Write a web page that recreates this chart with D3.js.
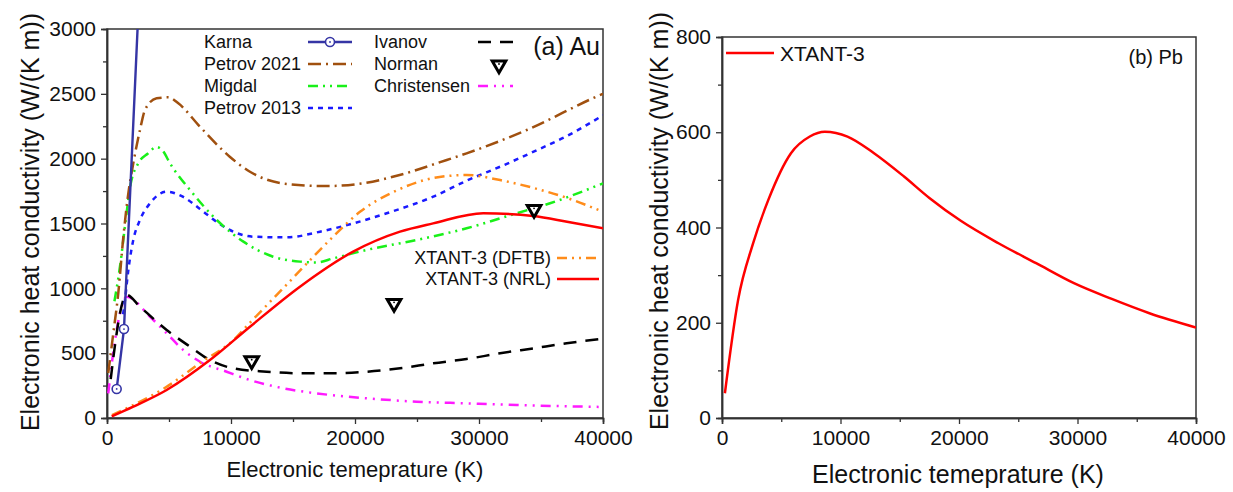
<!DOCTYPE html>
<html>
<head>
<meta charset="utf-8">
<script src="https://cdn.jsdelivr.net/npm/d3@7/dist/d3.min.js"></script>
<style>
  body { margin: 0; background: #fff; }
  svg text { font-family: "Liberation Sans", Arial, sans-serif; fill: #111; }
</style>
</head>
<body>
<svg id="chart"></svg>
<script>
const W = 1233;
const H = 492;

// ---- data: (a) Au, [temperature K, conductivity W/(K m)] ----
const karna = [[780, 224], [1370, 686], [2700, 3500]];
const petrov2021 = [[100, 347], [510, 655], [910, 963], [1320, 1398], [1720, 1733], [2120, 1964],
  [2660, 2221], [3060, 2375], [4000, 2466], [4950, 2473], [5750, 2427], [7500, 2246],
  [9900, 2015], [11530, 1899], [14500, 1805], [17700, 1789], [20650, 1810], [23600, 1874],
  [27400, 1990], [29000, 2041], [33850, 2221], [39350, 2473], [40000, 2500]];
const migdal = [[600, 900], [1050, 1170], [1450, 1480], [1900, 1800], [2500, 1960], [3300, 2040],
  [4000, 2090], [4500, 2060], [5080, 1964], [6700, 1758], [8850, 1527], [11000, 1360],
  [13400, 1244], [15560, 1206], [16900, 1200], [18250, 1231], [20940, 1296], [24970, 1373],
  [29000, 1463], [33040, 1579], [35730, 1656], [40000, 1810]];
const petrov2013 = [[1300, 800], [1450, 910], [1720, 1141], [2120, 1373], [2660, 1527], [3470, 1656],
  [4810, 1745], [6150, 1705], [7500, 1612], [8600, 1530], [9650, 1463], [11800, 1398], [14500, 1393],
  [17180, 1437], [19860, 1501], [22560, 1579], [26310, 1707], [29000, 1830], [32000, 1950],
  [35000, 2080], [37000, 2170], [40000, 2335]];
const ivanov = [[300, 300], [700, 600], [1050, 810], [1580, 949], [2660, 858], [4810, 679],
  [6700, 550], [8300, 447], [10190, 383], [12880, 357], [15560, 345], [18250, 345],
  [20940, 357], [23630, 383], [26310, 422], [29000, 455], [31700, 499], [34380, 537],
  [37070, 576], [40000, 612]];
const norman = [[11670, 442], [23150, 884], [34440, 1609]];
const christensen = [[100, 190], [650, 602], [1050, 807], [1580, 936], [3470, 781], [4810, 653],
  [6150, 524], [7500, 434], [9650, 357], [11530, 293], [14220, 229], [16910, 190],
  [20940, 152], [24970, 126], [29000, 113], [33040, 100], [40000, 85]];
const xtantDFTB = [[400, 23], [2120, 100], [4800, 240], [7500, 424], [10200, 601], [11500, 732],
  [14200, 1000], [15500, 1130], [16800, 1260], [18250, 1400], [20400, 1590], [23100, 1743],
  [26300, 1850], [29000, 1874], [31700, 1835], [34400, 1774], [37100, 1697], [40000, 1590]];
const xtantNRL = [[380, 12], [2120, 87], [4810, 216], [8300, 447], [11530, 704], [15560, 1013],
  [19850, 1283], [23630, 1437], [26300, 1501], [30340, 1579], [34370, 1558], [37100, 1514],
  [40000, 1463]];

// ---- data: (b) Pb ----
const pbXtant = [[245, 52], [1360, 248], [2630, 367], [3910, 458], [5820, 556], [7410, 591],
  [8680, 601], [10590, 591], [12830, 556], [15360, 507], [17500, 462], [20150, 414],
  [23330, 367], [26510, 325], [29700, 283], [32890, 250], [36070, 220], [40000, 190]];

const xTicks = [0, 10000, 20000, 30000, 40000];
const auYTicks = [0, 500, 1000, 1500, 2000, 2500, 3000];
const pbYTicks = [0, 200, 400, 600, 800];

const svg = d3.select("#chart").attr("width", W).attr("height", H);

/* ---------------------------
Panel frame + axes
--------------------------- */

function panel(id, box, yMax, yTicks, yMinorStep, fs) {
  const x = d3.scaleLinear().domain([0, 40000]).range([box.left, box.right]);
  const y = d3.scaleLinear().domain([0, yMax]).range([box.bottom, box.top]);

  svg.append("clipPath").attr("id", id)
    .append("rect")
    .attr("x", box.left).attr("y", box.top)
    .attr("width", box.right - box.left).attr("height", box.bottom - box.top);

  const g = svg.append("g");

  const xMinor = d3.range(5000, 40000, 10000);
  const yMinor = d3.range(yMinorStep, yMax, yMinorStep * 2);

  g.append("g").attr("transform", `translate(0,${box.bottom})`)
    .call(d3.axisBottom(x).tickValues(xTicks).tickSize(6).tickPadding(6).tickFormat(d3.format("d")));
  g.append("g").attr("transform", `translate(0,${box.bottom})`)
    .call(d3.axisBottom(x).tickValues(xMinor).tickSize(4).tickFormat(""));

  g.append("g").attr("transform", `translate(${box.left},0)`)
    .call(d3.axisLeft(y).tickValues(yTicks).tickSize(6).tickPadding(5).tickFormat(d3.format("d")));
  g.append("g").attr("transform", `translate(${box.left},0)`)
    .call(d3.axisLeft(y).tickValues(yMinor).tickSize(4).tickFormat(""));

  g.selectAll(".domain").attr("stroke", "#333").attr("stroke-width", 1.5);
  g.selectAll(".tick line").attr("stroke", "#333").attr("stroke-width", 1.3);
  g.selectAll(".tick text").attr("font-size", fs).attr("fill", "#111")
    .attr("font-family", "Liberation Sans, Arial, sans-serif");

  g.append("rect")
    .attr("x", box.left).attr("y", box.top)
    .attr("width", box.right - box.left).attr("height", box.bottom - box.top)
    .attr("fill", "none").attr("stroke", "#333").attr("stroke-width", 1.5);

  return { x, y, g };
}

function drawCurve(p, clipId, data, color, width, dash) {
  const line = d3.line()
    .x(d => p.x(d[0]))
    .y(d => p.y(d[1]))
    .curve(d3.curveMonotoneX);
  p.g.append("path")
    .datum(data)
    .attr("clip-path", `url(#${clipId})`)
    .attr("d", line)
    .attr("fill", "none")
    .attr("stroke", color)
    .attr("stroke-width", width)
    .attr("stroke-dasharray", dash);
}

function circleMarker(g, cx, cy, color) {
  g.append("circle").attr("cx", cx).attr("cy", cy).attr("r", 4.5)
    .attr("fill", "#fff").attr("stroke", color).attr("stroke-width", 1.6);
  g.append("circle").attr("cx", cx).attr("cy", cy).attr("r", 0.9).attr("fill", color);
}

function triangleMarker(g, cx, cy) {
  g.append("path")
    .attr("d", d3.symbol(d3.symbolTriangle, 80)())
    .attr("transform", `translate(${cx},${cy}) rotate(180)`)
    .attr("fill", "#fff").attr("stroke", "#000").attr("stroke-width", 3);
  g.append("circle").attr("cx", cx).attr("cy", cy - 1).attr("r", 0.9).attr("fill", "#000");
}

/* ---------------------------
(a) Au
--------------------------- */

const au = panel("clipAu", { left: 107, right: 603, top: 29, bottom: 418 }, 3000, auYTicks, 250, 21);

const sty = {
  petrov2021: ["#a0500f", 2.5, "13,5,2,5"],
  migdal: ["#19f019", 2.5, "10,5,2,5,2,5"],
  petrov2013: ["#1a1aff", 2.5, "5,5"],
  ivanov: ["#000", 2.5, "13,9"],
  christensen: ["#ff1aff", 2.5, "10,6,2,6,2,6"],
  dftb: ["#ff8c1a", 2.5, "10,5,2,5,2,5"],
  nrl: ["#ff0000", 2.5, null],
  karna: ["#3535a5", 2.4, null]
};

drawCurve(au, "clipAu", christensen, ...sty.christensen);
drawCurve(au, "clipAu", ivanov, ...sty.ivanov);
drawCurve(au, "clipAu", petrov2013, ...sty.petrov2013);
drawCurve(au, "clipAu", migdal, ...sty.migdal);
drawCurve(au, "clipAu", petrov2021, ...sty.petrov2021);
drawCurve(au, "clipAu", xtantDFTB, ...sty.dftb);
drawCurve(au, "clipAu", xtantNRL, ...sty.nrl);

// Karna: straight segments between points
au.g.append("path")
  .datum(karna)
  .attr("clip-path", "url(#clipAu)")
  .attr("d", d3.line().x(d => au.x(d[0])).y(d => au.y(d[1])))
  .attr("fill", "none").attr("stroke", sty.karna[0]).attr("stroke-width", sty.karna[1]);
karna.filter(d => d[1] < 3000).forEach(d => circleMarker(au.g, au.x(d[0]), au.y(d[1]), sty.karna[0]));

norman.forEach(d => triangleMarker(au.g, au.x(d[0]), au.y(d[1])));

// legend (a)
const lg = au.g.append("g").attr("font-size", 18);
const col1 = [["Karna", "karna"], ["Petrov 2021", "petrov2021"], ["Migdal", "migdal"], ["Petrov 2013", "petrov2013"]];
col1.forEach((c, i) => {
  const yy = 42 + i * 22;
  lg.append("text").attr("x", 204).attr("y", yy).attr("dy", "0.35em").text(c[0]);
  const s = sty[c[1]];
  lg.append("line").attr("x1", 308).attr("x2", 352).attr("y1", yy).attr("y2", yy)
    .attr("stroke", s[0]).attr("stroke-width", s[1]).attr("stroke-dasharray", s[2]);
  if (c[1] === "karna") circleMarker(lg, 330, yy, s[0]);
});
const col2 = [["Ivanov", "ivanov"], ["Norman", "norman"], ["Christensen", "christensen"]];
col2.forEach((c, i) => {
  const yy = 42 + i * 22;
  lg.append("text").attr("x", 374).attr("y", yy).attr("dy", "0.35em").text(c[0]);
  if (c[1] === "norman") {
    triangleMarker(lg, 499, yy + 1);
  } else {
    const s = sty[c[1]];
    lg.append("line").attr("x1", 478).attr("x2", c[1] === "ivanov" ? 520 : 513)
      .attr("y1", yy).attr("y2", yy)
      .attr("stroke", s[0]).attr("stroke-width", s[1]).attr("stroke-dasharray", s[2]);
  }
});
lg.append("text").attr("x", 600).attr("y", 46).attr("dy", "0.35em")
  .attr("text-anchor", "end").attr("font-size", 25).text("(a) Au");

const col3 = [["XTANT-3 (DFTB)", "dftb"], ["XTANT-3 (NRL)", "nrl"]];
col3.forEach((c, i) => {
  const yy = 258 + i * 21;
  lg.append("text").attr("x", 551).attr("y", yy).attr("dy", "0.35em")
    .attr("text-anchor", "end").text(c[0]);
  const s = sty[c[1]];
  lg.append("line").attr("x1", 557).attr("x2", 599).attr("y1", yy).attr("y2", yy)
    .attr("stroke", s[0]).attr("stroke-width", s[1]).attr("stroke-dasharray", s[2]);
});

svg.append("text")
  .attr("transform", "translate(39,222) rotate(-90)")
  .attr("text-anchor", "middle").attr("font-size", 25)
  .text("Electronic heat conductivity (W/(K m))");
svg.append("text")
  .attr("x", 355).attr("y", 477).attr("text-anchor", "middle").attr("font-size", 22)
  .text("Electronic temeprature (K)");

/* ---------------------------
(b) Pb
--------------------------- */

const pb = panel("clipPb", { left: 722, right: 1196, top: 37, bottom: 418 }, 800, pbYTicks, 100, 21);
drawCurve(pb, "clipPb", pbXtant, "#ff0000", 2.5, null);

pb.g.append("line").attr("x1", 726).attr("x2", 774).attr("y1", 53).attr("y2", 53)
  .attr("stroke", "#ff0000").attr("stroke-width", 2.5);
pb.g.append("text").attr("x", 780).attr("y", 54).attr("dy", "0.35em")
  .attr("font-size", 21).text("XTANT-3");
pb.g.append("text").attr("x", 1183).attr("y", 57).attr("dy", "0.35em")
  .attr("text-anchor", "end").attr("font-size", 20).text("(b) Pb");

svg.append("text")
  .attr("transform", "translate(668,221) rotate(-90)")
  .attr("text-anchor", "middle").attr("font-size", 25)
  .text("Electronic heat conductivity (W/(K m))");
svg.append("text")
  .attr("x", 958).attr("y", 483).attr("text-anchor", "middle").attr("font-size", 25)
  .text("Electronic temeprature (K)");
</script>
</body>
</html>
